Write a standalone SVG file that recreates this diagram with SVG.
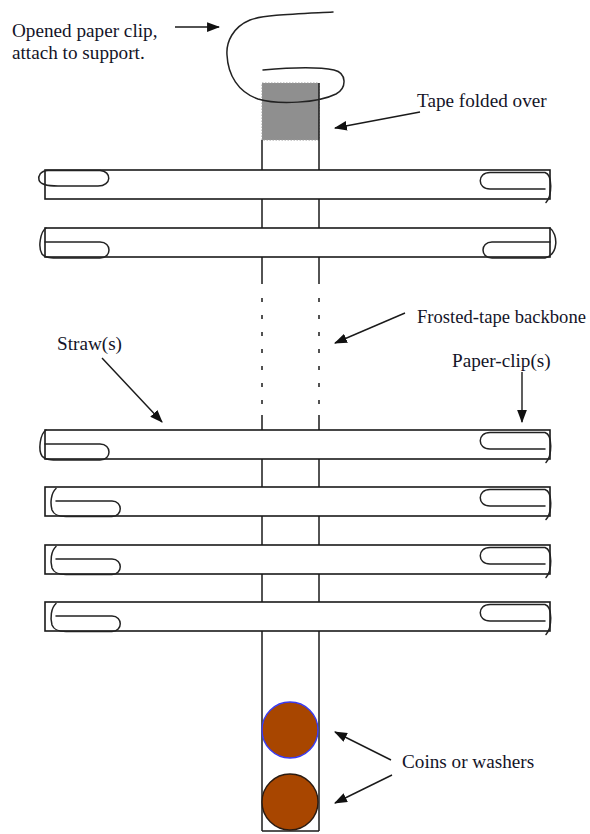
<svg xmlns="http://www.w3.org/2000/svg" xmlns:xlink="http://www.w3.org/1999/xlink" width="590" height="834" viewBox="0 0 590 834">
  <style>
    .lbl { font-family: "Liberation Serif", "Times New Roman", serif; font-size: 19.2px; fill: #141428; }
    .edge { fill: none; stroke: #1a1a1a; stroke-width: 1.5; }
    .straw { fill: #ffffff; stroke: #1a1a1a; stroke-width: 1.6; }
    .wire { fill: none; stroke: #222; stroke-width: 1.5; stroke-linecap: round; stroke-linejoin: round; }
    .arrow { fill: none; stroke: #1a1a1a; stroke-width: 1.4; marker-end: url(#head); }
  </style>
  <defs>
    <marker id="head" viewBox="0 0 12 9" refX="11" refY="4.5" markerWidth="13" markerHeight="10" markerUnits="userSpaceOnUse" orient="auto">
      <path d="M0 0 L12 4.5 L0 9 Z" fill="#111"/>
    </marker>
    <!-- paper clips, drawn relative to the top edge of their straw -->
    <path id="clipR1" class="wire" d="M545 19 L490 19 C477 19 477 2.5 490 2.5 L545 2.5 C553 5 552 26 546 32.5"/>
    <path id="clipR2" class="wire" d="M550 0 C558 6 559 26 545 30 L492 30 C480 30 480 14 492 14 L550 14"/>
    <path id="clipL1" class="wire" d="M48 0.5 C40 1 38 6 39 10 C40 14 45 16 58 16 L98 16 C112 16 112 1 100 0.5 L48 0.5"/>
    <path id="clipL2" class="wire" d="M46 0 C40 4 38 20 42 26 C45 30 52 30 60 30 L100 30 C112 30 112 14 100 14 L45 14"/>
    <path id="clipL3" class="wire" d="M56 1.5 C51 6 50 16 52 23 C54 28 58 29.5 66 29.5 L112 29.5 C123 29.5 123 14 112 14 L56 14"/>
  </defs>

  <rect width="590" height="834" fill="#ffffff"/>

  <!-- tape backbone -->
  <g id="backbone">
    <rect x="262" y="83" width="57" height="57" fill="#8f8f8f" stroke="#9a9a9a" stroke-width="1" stroke-dasharray="1.5 1.5"/>
    <line class="edge" x1="319" y1="83" x2="319" y2="284"/>
    <line class="edge" x1="262" y1="140" x2="262" y2="284"/>
    <line class="edge" x1="262" y1="298" x2="262" y2="405" stroke-dasharray="4 13"/>
    <line class="edge" x1="319" y1="298" x2="319" y2="405" stroke-dasharray="4 13"/>
    <line class="edge" x1="262" y1="415" x2="262" y2="831"/>
    <line class="edge" x1="319" y1="415" x2="319" y2="831"/>
    <line class="edge" x1="262" y1="831" x2="319" y2="831"/>
  </g>

  <!-- opened paper clip hooked through the folded tape -->
  <g id="hanger">
    <path class="wire" d="M333 12 C295 14 262 15 250 20 C233 27 226 42 227 55 C228 75 238 92 258 99 C278 105 318 103 336 94 C347 88 347 73 334 70 C315 66 285 68 263 70"/>
  </g>

  <!-- straws with a paper clip in each end -->
  <g id="straw1">
    <rect class="straw" x="45" y="170" width="505" height="29"/>
    <use xlink:href="#clipL1" y="170"/>
    <use xlink:href="#clipR1" y="170"/>
  </g>
  <g id="straw2">
    <rect class="straw" x="45" y="228" width="505" height="29"/>
    <use xlink:href="#clipL2" y="228"/>
    <use xlink:href="#clipR2" y="228"/>
  </g>
  <g id="straw3">
    <rect class="straw" x="45" y="430" width="505" height="29"/>
    <use xlink:href="#clipL2" y="430"/>
    <use xlink:href="#clipR1" y="430"/>
  </g>
  <g id="straw4">
    <rect class="straw" x="45" y="487" width="505" height="29"/>
    <use xlink:href="#clipL3" y="487"/>
    <use xlink:href="#clipR1" y="487"/>
  </g>
  <g id="straw5">
    <rect class="straw" x="45" y="545" width="505" height="29"/>
    <use xlink:href="#clipL3" y="545"/>
    <use xlink:href="#clipR1" y="545"/>
  </g>
  <g id="straw6">
    <rect class="straw" x="45" y="602" width="505" height="29"/>
    <use xlink:href="#clipL3" y="602"/>
    <use xlink:href="#clipR1" y="602"/>
  </g>

  <!-- weights at the bottom of the backbone -->
  <g id="coin1">
    <circle cx="290" cy="730" r="28" fill="#a84600" stroke="#3b3bf0" stroke-width="1.4"/>
  </g>
  <g id="coin2">
    <circle cx="290" cy="802" r="28" fill="#a84600" stroke="#2a1a10" stroke-width="1.4"/>
  </g>

  <!-- labels -->
  <g id="label-hanger">
    <text class="lbl" x="12" y="37">Opened paper clip,</text>
    <text class="lbl" x="12" y="59">attach to support.</text>
  </g>
  <g id="label-tape"><text class="lbl" x="417" y="107">Tape folded over</text></g>
  <g id="label-backbone"><text class="lbl" x="417" y="323" textLength="169" lengthAdjust="spacingAndGlyphs">Frosted-tape backbone</text></g>
  <g id="label-straws"><text class="lbl" x="57" y="350">Straw(s)</text></g>
  <g id="label-clips"><text class="lbl" x="452" y="367">Paper-clip(s)</text></g>
  <g id="label-coins"><text class="lbl" x="402" y="768">Coins or washers</text></g>

  <!-- pointer arrows -->
  <g id="connectors">
    <line class="arrow" x1="175" y1="27" x2="219" y2="27"/>
    <line class="arrow" x1="420" y1="112" x2="335" y2="128"/>
    <line class="arrow" x1="405" y1="313" x2="335" y2="343"/>
    <line class="arrow" x1="102" y1="358" x2="162" y2="422"/>
    <line class="arrow" x1="522" y1="372" x2="522" y2="422"/>
    <line class="arrow" x1="391" y1="760" x2="335" y2="732"/>
    <line class="arrow" x1="392" y1="775" x2="335" y2="803"/>
  </g>
</svg>
